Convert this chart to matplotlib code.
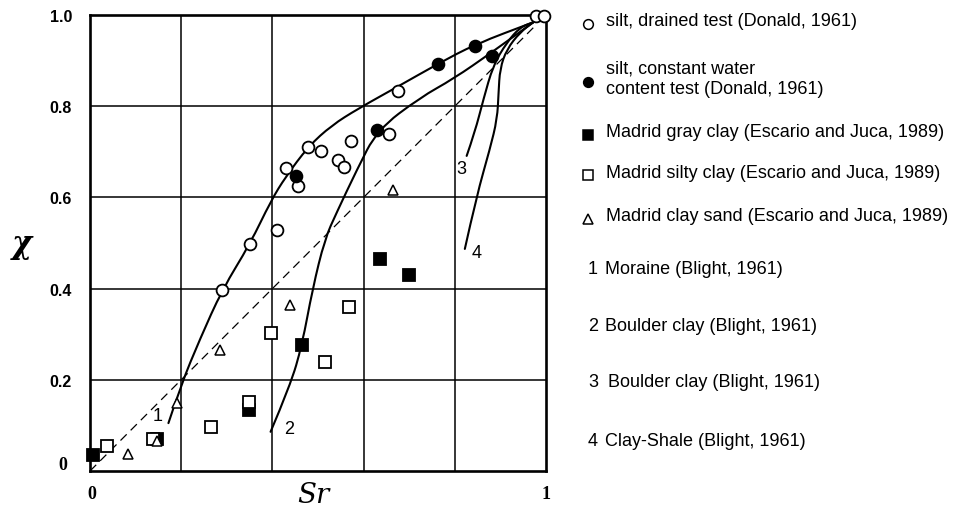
import matplotlib.pyplot as plt
from matplotlib.path import Path
from matplotlib.patches import PathPatch

# Effective stress parameter chi against degree of saturation Sr

# silt, drained test (Donald, 1961)
silt_drained_sr = [0.290, 0.351, 0.409, 0.429, 0.457, 0.479, 0.507, 0.543, 0.556, 0.572, 0.656, 0.675, 0.978, 0.996]
silt_drained_chi = [0.398, 0.498, 0.529, 0.664, 0.624, 0.711, 0.702, 0.682, 0.667, 0.724, 0.740, 0.834, 0.998, 0.998]

# silt, constant water content test (Donald, 1961)
silt_cw_sr = [0.452, 0.630, 0.764, 0.845, 0.882]
silt_cw_chi = [0.646, 0.748, 0.893, 0.933, 0.911]

# Madrid gray clay (Escario and Juca, 1989)
gray_clay_sr = [0.007, 0.148, 0.349, 0.465, 0.637, 0.700]
gray_clay_chi = [0.034, 0.070, 0.134, 0.276, 0.465, 0.430]

# Madrid silty clay (Escario and Juca, 1989)
silty_clay_sr = [0.038, 0.139, 0.265, 0.349, 0.398, 0.516, 0.567]
silty_clay_chi = [0.054, 0.070, 0.097, 0.152, 0.303, 0.240, 0.360]

# Madrid clay sand (Escario and Juca, 1989)
clay_sand_sr = [0.084, 0.146, 0.191, 0.284, 0.439, 0.664]
clay_sand_chi = [0.037, 0.065, 0.149, 0.265, 0.363, 0.617]

# Blight (1961) curves
moraine_sr = [0.172, 0.200, 0.241, 0.290, 0.351, 0.397, 0.429, 0.479, 0.530, 0.587, 0.675, 0.763, 0.845, 0.972]
moraine_chi = [0.105, 0.190, 0.289, 0.398, 0.498, 0.593, 0.645, 0.712, 0.758, 0.794, 0.843, 0.893, 0.936, 0.984]

boulder2_sr = [0.396, 0.439, 0.465, 0.488, 0.515, 0.541, 0.585, 0.630, 0.724, 0.797, 0.881, 0.972]
boulder2_chi = [0.086, 0.187, 0.276, 0.399, 0.509, 0.567, 0.660, 0.748, 0.819, 0.860, 0.918, 0.984]

boulder3_sr = [0.826, 0.844, 0.863, 0.884, 0.914, 0.943, 0.972]
boulder3_chi = [0.691, 0.743, 0.816, 0.889, 0.940, 0.973, 0.984]

shale_sr = [0.822, 0.848, 0.877, 0.893, 0.896, 0.899, 0.914, 0.943, 0.972]
shale_chi = [0.487, 0.604, 0.706, 0.772, 0.830, 0.882, 0.925, 0.962, 0.984]

curve_labels = ["1", "2", "3", "4"]
curve_label_pos = [(0.148, 0.121), (0.437, 0.094), (0.815, 0.664), (0.848, 0.480)]

legend_marker_items = [
    ("silt, drained test (Donald, 1961)", "o", "white"),
    ("silt, constant water\ncontent test (Donald, 1961)", "o", "black"),
    ("Madrid gray clay (Escario and Juca, 1989)", "s", "black"),
    ("Madrid silty clay (Escario and Juca, 1989)", "s", "white"),
    ("Madrid clay sand (Escario and Juca, 1989)", "^", "white"),
]
legend_curve_items = [
    ("1", "Moraine (Blight, 1961)"),
    ("2", "Boulder clay (Blight, 1961)"),
    ("3", "Boulder clay (Blight, 1961)"),
    ("4", "Clay-Shale (Blight, 1961)"),
]


def smooth_curve(xs, ys):
    # quadratic bezier through the midpoints, so the hand-read points give a smooth line
    verts = [(xs[0], ys[0])]
    codes = [Path.MOVETO]
    for i in range(1, len(xs) - 1):
        verts.append((xs[i], ys[i]))
        verts.append(((xs[i] + xs[i + 1]) / 2, (ys[i] + ys[i + 1]) / 2))
        codes += [Path.CURVE3, Path.CURVE3]
    verts.append((xs[-1], ys[-1]))
    codes.append(Path.LINETO)
    return Path(verts, codes)


fig = plt.figure(figsize=(9.62, 5.10), dpi=100)
ax = fig.add_axes([90 / 962, 38 / 510, 456 / 962, 456 / 510])

ax.set_xlim(0, 1)
ax.set_ylim(0, 1)
for s in ax.spines.values():
    s.set_linewidth(1.9)

grid = [0.2, 0.4, 0.6, 0.8]
for g in grid:
    ax.axvline(g, color="black", lw=1.1, zorder=1)
    ax.axhline(g, color="black", lw=1.1, zorder=1)

ax.plot([0, 0.98], [0, 0.98], ls=(0, (7, 4.5)), color="black", lw=0.9, zorder=2)

for xs, ys in [(moraine_sr, moraine_chi), (boulder2_sr, boulder2_chi),
               (boulder3_sr, boulder3_chi), (shale_sr, shale_chi)]:
    ax.add_patch(PathPatch(smooth_curve(xs, ys), fill=False, edgecolor="black",
                           lw=1.5, zorder=3, capstyle="round"))

for lab, (lx, ly) in zip(curve_labels, curve_label_pos):
    ax.text(lx, ly, lab, fontsize=13, family="Liberation Sans", ha="center", va="center", zorder=4)

mk = dict(ls="none", mec="black", mew=1.3, zorder=5, clip_on=False)
ax.plot(silt_drained_sr, silt_drained_chi, marker="o", ms=8.5, mfc="white", **mk)
ax.plot(silt_cw_sr, silt_cw_chi, marker="o", ms=8.5, mfc="black", **mk)
ax.plot(gray_clay_sr, gray_clay_chi, marker="s", ms=8, mfc="black", **mk)
ax.plot(silty_clay_sr, silty_clay_chi, marker="s", ms=8, mfc="white", **mk)
ax.plot(clay_sand_sr, clay_sand_chi, marker="^", ms=7, mfc="white", mew=1.1,
        ls="none", mec="black", zorder=5, clip_on=False)

ax.set_xticks([])
ax.set_yticks([0.2, 0.4, 0.6, 0.8, 1.0])
ax.set_yticklabels(["0.2", "0.4", "0.6", "0.8", "1.0"], family="Liberation Sans",
                   fontweight="bold", fontsize=11.5)
ax.tick_params(axis="y", length=0, pad=13)

ax.text(-0.06, 0.015, "0", transform=ax.transAxes, ha="center", va="center",
        family="Liberation Serif", fontweight="bold", fontsize=13)
ax.text(0.005, -0.05, "0", transform=ax.transAxes, ha="center", va="center",
        family="Liberation Serif", fontweight="bold", fontsize=13)
ax.text(1.0, -0.05, "1", transform=ax.transAxes, ha="center", va="center",
        family="Liberation Serif", fontweight="bold", fontsize=13)

ax.text(0.49, -0.052, "Sr", transform=ax.transAxes, ha="center", va="center",
        family="DejaVu Serif", style="italic", fontsize=20)
ax.text(-0.149, 0.50, "χ", transform=ax.transAxes, ha="center", va="center",
        family="DejaVu Serif", fontweight="bold", style="italic", fontsize=22)

# legend drawn on an overlay in pixel units
leg = fig.add_axes([0, 0, 1, 1], facecolor="none")
leg.set_xlim(0, 962)
leg.set_ylim(510, 0)
leg.axis("off")

legend_font = dict(fontsize=13, family="Liberation Sans", ha="left", va="center")

marker_rows = [25, 83, 136, 176, 220]
marker_text_y = [[22], [69, 89], [133], [174], [217]]
for (text, m, fc), my, ty in zip(legend_marker_items, marker_rows, marker_text_y):
    leg.plot([588], [my], marker=m, ms=7 if m != "^" else 6.5, mfc=fc, mec="black", mew=1.1, ls="none")
    for line, yy in zip(text.split("\n"), ty):
        leg.text(606, yy, line, **legend_font)

curve_rows = [270, 327, 383, 442]
for (num, text), yy in zip(legend_curve_items, curve_rows):
    leg.text(588, yy, num, **legend_font)
    leg.text(605 if num != "3" else 608, yy, text, **legend_font)

fig.savefig("out.png", dpi=100)
